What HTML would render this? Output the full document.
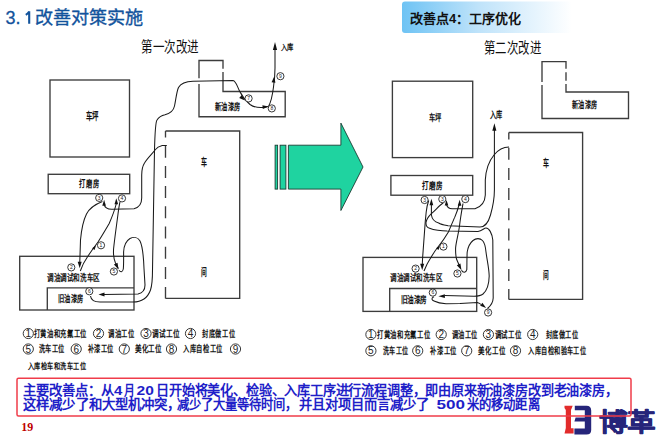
<!DOCTYPE html>
<html lang="zh-CN"><head><meta charset="utf-8">
<style>
html,body{margin:0;padding:0;background:#fff;}
body{width:660px;height:438px;overflow:hidden;position:relative;font-family:"Liberation Sans",sans-serif;}
svg{position:absolute;left:0;top:0;}
</style></head>
<body>
<svg width="660" height="438" viewBox="0 0 660 438" font-family="Liberation Serif, serif">
<defs>
<linearGradient id="hg" x1="0" x2="1" y1="0" y2="0">
<stop offset="0" stop-color="#6ec3f4"/>
<stop offset="0.45" stop-color="#bfe3fa"/>
<stop offset="1" stop-color="#ffffff"/>
</linearGradient>
</defs>

<g font-family="Liberation Sans, sans-serif" font-size="18" fill="#12539c">
<text x="5.6" y="23.8" stroke="#12539c" stroke-width="0.3">3.</text>
<path d="M29.2,23.8 V11.2 M29.2,11.4 C28.3,13 27.2,14 25.8,14.8" fill="none" stroke="#12539c" stroke-width="2.1"/>
<text x="34.5" y="23.8" stroke="#12539c" stroke-width="0.35" textLength="108.5" lengthAdjust="spacingAndGlyphs">改善对策实施</text>
</g>
<rect x="402" y="1.5" width="170" height="31.5" rx="3" fill="url(#hg)"/>
<text x="410" y="23" font-family="Liberation Sans, sans-serif" font-size="13" font-weight="bold" fill="#111">改善点4：工序优化</text>
<g fill="#222">
<text x="141" y="52.1" font-size="15.0" textLength="57.6" lengthAdjust="spacingAndGlyphs" fill="#111" font-weight="normal">第一次改进</text>
<text x="484" y="53.3" font-size="15.0" textLength="57" lengthAdjust="spacingAndGlyphs" fill="#111" font-weight="normal">第二次改进</text>
</g>
<g fill="none" stroke="#3c3c3c" stroke-width="1.35">
<rect x="50" y="80" width="79.5" height="77"/>
<path d="M199,78.3 V60.5 H223 V68.7 M223,72 V91.5 H285.2 V116.7 H199 V84"/>
<path d="M165.5,131 H239.7 V298.4 H165.5"/>
<path d="M165.5,131 V298.4" stroke-dasharray="12,8.2" stroke-dashoffset="5.5"/>
<rect x="48.2" y="174.3" width="81.5" height="19.4"/>
<rect x="19.7" y="256.3" width="114.3" height="53.7"/>
<path d="M47.3,310 V287.8 H134"/>
</g>
<g fill="none" stroke="#1a1a1a" stroke-width="1.05">
<path d="M90.5,296 C91,300 94,302 100,302 L133,302 C143,302 148,297 150.5,290 C152.5,284 152.5,278 152.5,270 L154.5,150 C155,130 155.5,122 157,120 C159,117 162,115.5 165,114.8 C170,113.5 173.5,111 174.5,106 C176,99 176.5,92 178.5,87.5 C181,83 186,81.5 193,81.3 L233,80.5 C236,81 237,86 239.5,91 C242,96 246,101 250,104.5 C254,107.5 258,107.8 263,107.5 L268.5,106.5 C271,102 272.5,95 273.5,87 C274.5,80 275,75 275,68 L275,47"/>
<path d="M166.8,145.4 L162.2,145.6 C159,146.5 157,147.5 155.5,149.5 C152,154 147,158.5 144.5,163 C142,167 141.7,170 141.7,175 L141.7,198 C141.7,204 139,207.5 134,208.7 L112,209.3 C107,209.3 104.5,207.5 104.2,204"/>
<path d="M102.4,201.5 C96,204 90,207 86.5,214 C83,221 81.5,229 80.5,240 L79.7,265"/>
<path d="M80.3,271 C82,266 84.5,261 88,256 C91,251.5 95,246 98,242 C102.5,235 106,229 109.2,223.5 C112,217 114.5,211 116.2,204"/>
<path d="M120,201.8 C119,206 118.5,210 118,214 C117,222 115.5,232 114,245 C113,252 113.3,258 115.5,263 L118.2,268.5"/>
<path d="M119,270.3 C120.5,272.5 122.5,272.5 123.3,269 C123.8,264 123.6,258 123.6,252 C123.8,246 126,241 130,238.5 C134,236.5 138,237.5 140,241 C142.5,246 143.5,255 144,268.5 L145,285 C145,290 142.5,293 138,294 L104,294.4"/>
</g>
<g>
<path d="M275.0,42.1 L277.1,50.1 L272.9,50.1 Z" fill="#111"/>
<path d="M274.2,76.5 L275.4,82.7 L271.6,82.2 Z" fill="#111"/>
<path d="M245.0,100.5 L239.2,98.0 L241.8,95.1 Z" fill="#111"/>
<path d="M268.6,106.5 L262.8,109.0 L262.4,105.2 Z" fill="#111"/>
<path d="M104.1,199.8 L105.9,205.8 L102.3,205.8 Z" fill="#111"/>
<path d="M116.3,198.2 L118.1,204.2 L114.5,204.2 Z" fill="#111"/>
<path d="M79.7,268.2 L77.7,261.7 L81.7,261.7 Z" fill="#111"/>
<path d="M96.0,245.5 L94.5,250.0 L92.1,248.2 Z" fill="#111"/>
<path d="M118.6,269.4 L113.9,264.5 L117.5,262.7 Z" fill="#111"/>
<path d="M98.5,294.5 L104.5,292.6 L104.5,296.4 Z" fill="#111"/>
</g>
<circle cx="99.2" cy="197.9" r="3.6" fill="#fff" stroke="#222" stroke-width="0.9"/>
<text x="99.2" y="199.7" font-size="5" text-anchor="middle" fill="#222" font-family="Liberation Sans, sans-serif">3</text>
<circle cx="122" cy="198.4" r="3.6" fill="#fff" stroke="#222" stroke-width="0.9"/>
<text x="122" y="200.2" font-size="5" text-anchor="middle" fill="#222" font-family="Liberation Sans, sans-serif">4</text>
<circle cx="71.3" cy="267.4" r="3.6" fill="#fff" stroke="#222" stroke-width="0.9"/>
<text x="71.3" y="269.2" font-size="5" text-anchor="middle" fill="#222" font-family="Liberation Sans, sans-serif">2</text>
<circle cx="101" cy="245.3" r="3.6" fill="#fff" stroke="#222" stroke-width="0.9"/>
<text x="101" y="247.1" font-size="5" text-anchor="middle" fill="#222" font-family="Liberation Sans, sans-serif">1</text>
<circle cx="113.9" cy="271.5" r="3.6" fill="#fff" stroke="#222" stroke-width="0.9"/>
<text x="113.9" y="273.3" font-size="5" text-anchor="middle" fill="#222" font-family="Liberation Sans, sans-serif">5</text>
<circle cx="89.3" cy="291.3" r="3.6" fill="#fff" stroke="#222" stroke-width="0.9"/>
<text x="89.3" y="293.1" font-size="5" text-anchor="middle" fill="#222" font-family="Liberation Sans, sans-serif">6</text>
<circle cx="248.6" cy="98.4" r="3.6" fill="#fff" stroke="#222" stroke-width="0.9"/>
<text x="248.6" y="100.2" font-size="5" text-anchor="middle" fill="#222" font-family="Liberation Sans, sans-serif">7</text>
<circle cx="271.8" cy="108.4" r="3.6" fill="#fff" stroke="#222" stroke-width="0.9"/>
<text x="271.8" y="110.2" font-size="5" text-anchor="middle" fill="#222" font-family="Liberation Sans, sans-serif">8</text>
<circle cx="280.4" cy="76.2" r="3.6" fill="#fff" stroke="#222" stroke-width="0.9"/>
<text x="280.4" y="78.0" font-size="5" text-anchor="middle" fill="#222" font-family="Liberation Sans, sans-serif">9</text>
<g fill="#111">
<text x="85.7" y="119.8" font-size="9.7" textLength="13.2" lengthAdjust="spacingAndGlyphs" fill="#111" font-weight="bold">车坪</text>
<text x="214.5" y="109.6" font-size="9.5" textLength="26.1" lengthAdjust="spacingAndGlyphs" fill="#111" font-weight="bold">新油漆房</text>
<text x="280.7" y="49.6" font-size="8.0" textLength="12.6" lengthAdjust="spacingAndGlyphs" fill="#111" font-weight="bold">入库</text>
<text x="200.9" y="165.8" font-size="10.0" textLength="6" lengthAdjust="spacingAndGlyphs" fill="#111" font-weight="bold">车</text>
<text x="201.4" y="275.9" font-size="10.1" textLength="5.7" lengthAdjust="spacingAndGlyphs" fill="#111" font-weight="bold">间</text>
<text x="79.4" y="187.2" font-size="9.6" textLength="19.7" lengthAdjust="spacingAndGlyphs" fill="#111" font-weight="bold">打磨房</text>
<text x="46.9" y="280.8" font-size="9.0" textLength="53" lengthAdjust="spacingAndGlyphs" fill="#111" font-weight="bold">调油调试和洗车区</text>
<text x="57.5" y="302.0" font-size="9.6" textLength="26" lengthAdjust="spacingAndGlyphs" fill="#111" font-weight="bold">旧油漆房</text>
</g>
<g fill="none" stroke="#3c3c3c" stroke-width="1.35">
<rect x="392.4" y="81.2" width="80.3" height="76.4"/>
<path d="M542,82 V61.6 H566 V68.8 M566,72.3 V80.8 M566,83.9 V92 H628.5 V118.5 H542 V85.1"/>
<path d="M508.8,132.5 H582.6 V299.4 H508.8"/>
<path d="M508.8,132.5 V299.4" stroke-dasharray="12,8.2" stroke-dashoffset="5"/>
<rect x="390.9" y="175.5" width="81.8" height="19.7"/>
<rect x="363" y="257.4" width="113.7" height="54"/>
<path d="M389.7,311.4 V288.5 H476.7"/>
</g>
<g fill="none" stroke="#1a1a1a" stroke-width="1.05">
<path d="M509,147 C503,147 498,150 494,155 C489,161 486,168 485.3,180 L485.3,195 C485,202 482,206.5 475,208.8 L452,208.8 C449.5,208.7 447.5,207.5 446.6,205"/>
<path d="M431.4,204 L431.4,215 C432,219 435,222 438.7,223 C441,224.5 444,225 448,225.8 L480,227 C485,227 488.5,222 490.5,215 C492.5,208 494.4,200 494.4,190 L494.4,130"/>
<path d="M443.3,202.8 C440,205 436.5,209 431.4,213.7 C428.5,216.5 426.5,219.5 426,222.4 C425.8,225 427,227.5 429.6,228.3 C432,229.5 435,230 437.8,230.2 C441,230.7 444,231 447,231.1 L478,231.4 C482,231 484,228 486,228 C489,228 492,233 492.8,240 L493.2,298 C493,303 490.5,306 487.5,308.5"/>
<path d="M428.7,200.5 C427.5,204 426.6,208 426.2,212 C425.5,218 425,224 424.5,232 C423.8,242 423,252 422.6,258 L422.2,266"/>
<path d="M424,271 C426,266 428,262 430,259 C433,254 435.5,250 438,247 C442,242 445.5,237 448.4,232 C451,226 453,221 454.7,217.4 C457,212 458.5,207 459.3,204"/>
<path d="M463,203.5 C462,209 460.5,217 459.5,226 C458.3,235 456,242 455.6,248 C455.5,252 455.8,256 456.5,259 L459.5,266"/>
<path d="M461.5,270.2 C463,273 466,273 466.8,269.7 C467,264 466.8,258 467.2,252 C468,247 470,243 473,240.5 C476,238 480,238 482.5,240.5 C485,243 485.5,247 486,252 C487,260 489,268 489.2,276 C489,285 486.5,291 483,294 C480.5,296 477,296.2 474,296.2 L444.5,295.6"/>
<path d="M434,296.8 C431,298 431.5,300 434,301 C437,302.5 441,303.5 446,303.8 L460,303.6 L477.3,302.5 C479,303 480,303.5 481,304.5"/>
</g>
<g>
<path d="M494.4,123.2 L496.4,130.7 L492.3,130.7 Z" fill="#111"/>
<path d="M446.5,200.0 L448.3,205.5 L444.7,205.5 Z" fill="#111"/>
<path d="M431.4,198.7 L433.3,205.2 L429.5,205.2 Z" fill="#111"/>
<path d="M459.6,199.8 L461.4,205.8 L457.8,205.8 Z" fill="#111"/>
<path d="M422.2,270.3 L420.2,263.8 L424.2,263.8 Z" fill="#111"/>
<path d="M440.0,245.5 L438.5,250.0 L436.1,248.2 Z" fill="#111"/>
<path d="M461.5,270.2 L456.8,265.3 L460.4,263.5 Z" fill="#111"/>
<path d="M438.4,296.2 L444.9,294.3 L444.9,298.1 Z" fill="#111"/>
<path d="M486.1,307.9 L480.2,305.8 L482.4,302.8 Z" fill="#111"/>
</g>
<circle cx="424.6" cy="200" r="3.6" fill="#fff" stroke="#222" stroke-width="0.9"/>
<text x="424.6" y="201.8" font-size="5" text-anchor="middle" fill="#222" font-family="Liberation Sans, sans-serif">3</text>
<circle cx="442.3" cy="199.1" r="3.6" fill="#fff" stroke="#222" stroke-width="0.9"/>
<text x="442.3" y="200.9" font-size="5" text-anchor="middle" fill="#222" font-family="Liberation Sans, sans-serif">3</text>
<circle cx="465.3" cy="199.1" r="3.6" fill="#fff" stroke="#222" stroke-width="0.9"/>
<text x="465.3" y="200.9" font-size="5" text-anchor="middle" fill="#222" font-family="Liberation Sans, sans-serif">4</text>
<circle cx="415.6" cy="268.6" r="3.6" fill="#fff" stroke="#222" stroke-width="0.9"/>
<text x="415.6" y="270.4" font-size="5" text-anchor="middle" fill="#222" font-family="Liberation Sans, sans-serif">2</text>
<circle cx="443.4" cy="246.6" r="3.6" fill="#fff" stroke="#222" stroke-width="0.9"/>
<text x="443.4" y="248.4" font-size="5" text-anchor="middle" fill="#222" font-family="Liberation Sans, sans-serif">1</text>
<circle cx="457.4" cy="273.5" r="3.6" fill="#fff" stroke="#222" stroke-width="0.9"/>
<text x="457.4" y="275.3" font-size="5" text-anchor="middle" fill="#222" font-family="Liberation Sans, sans-serif">5</text>
<circle cx="432.8" cy="292.6" r="3.6" fill="#fff" stroke="#222" stroke-width="0.9"/>
<text x="432.8" y="294.4" font-size="5" text-anchor="middle" fill="#222" font-family="Liberation Sans, sans-serif">6</text>
<circle cx="488.1" cy="312.5" r="3.6" fill="#fff" stroke="#222" stroke-width="0.9"/>
<text x="488.1" y="314.3" font-size="5" text-anchor="middle" fill="#222" font-family="Liberation Sans, sans-serif">9</text>
<g fill="#111">
<text x="428.9" y="120.9" font-size="8.8" textLength="12.9" lengthAdjust="spacingAndGlyphs" fill="#111" font-weight="bold">车坪</text>
<text x="572" y="107.8" font-size="9.6" textLength="25.6" lengthAdjust="spacingAndGlyphs" fill="#111" font-weight="bold">新油漆房</text>
<text x="489.6" y="118.1" font-size="9.6" textLength="12.9" lengthAdjust="spacingAndGlyphs" fill="#111" font-weight="bold">入库</text>
<text x="542.8" y="166.8" font-size="10.0" textLength="6" lengthAdjust="spacingAndGlyphs" fill="#111" font-weight="bold">车</text>
<text x="542.8" y="278.9" font-size="10.0" textLength="5.7" lengthAdjust="spacingAndGlyphs" fill="#111" font-weight="bold">间</text>
<text x="422.3" y="188.8" font-size="9.6" textLength="20.5" lengthAdjust="spacingAndGlyphs" fill="#111" font-weight="bold">打磨房</text>
<text x="390" y="281.2" font-size="9.0" textLength="52.3" lengthAdjust="spacingAndGlyphs" fill="#111" font-weight="bold">调油调试和洗车区</text>
<text x="401" y="303.2" font-size="9.4" textLength="25.5" lengthAdjust="spacingAndGlyphs" fill="#111" font-weight="bold">旧油漆房</text>
</g>
<g fill="#1fd3a0" stroke="#1a3d33" stroke-width="0.9">
<rect x="275.1" y="145.2" width="2.5" height="43.9"/>
<rect x="280.1" y="145.2" width="5.8" height="43.9"/>
<path d="M288.4,145.2 H340.9 V123.1 L363,167 L340.9,210.5 V189.1 H288.4 Z"/>
</g>
<g fill="#111">
<circle cx="28.3" cy="333.5" r="5.1" fill="none" stroke="#222" stroke-width="0.9"/>
<text x="28.3" y="337.1" font-size="10" text-anchor="middle" fill="#222" font-family="Liberation Sans, sans-serif">1</text>
<text x="33.8" y="336.9" font-size="8.6" textLength="53.3" lengthAdjust="spacingAndGlyphs" fill="#111" font-weight="bold">打黄油和充氟工位</text>
<circle cx="98.5" cy="333.5" r="5.1" fill="none" stroke="#222" stroke-width="0.9"/>
<text x="98.5" y="337.1" font-size="10" text-anchor="middle" fill="#222" font-family="Liberation Sans, sans-serif">2</text>
<text x="108.2" y="336.9" font-size="8.6" textLength="26.6" lengthAdjust="spacingAndGlyphs" fill="#111" font-weight="bold">调油工位</text>
<circle cx="146" cy="333.5" r="5.1" fill="none" stroke="#222" stroke-width="0.9"/>
<text x="146" y="337.1" font-size="10" text-anchor="middle" fill="#222" font-family="Liberation Sans, sans-serif">3</text>
<text x="151.5" y="336.9" font-size="8.6" textLength="28" lengthAdjust="spacingAndGlyphs" fill="#111" font-weight="bold">调试工位</text>
<circle cx="190.5" cy="333.5" r="5.1" fill="none" stroke="#222" stroke-width="0.9"/>
<text x="190.5" y="337.1" font-size="10" text-anchor="middle" fill="#222" font-family="Liberation Sans, sans-serif">4</text>
<text x="202.3" y="336.9" font-size="8.6" textLength="32.8" lengthAdjust="spacingAndGlyphs" fill="#111" font-weight="bold">封底做工位</text>
<circle cx="28.3" cy="349" r="5.1" fill="none" stroke="#222" stroke-width="0.9"/>
<text x="28.3" y="352.6" font-size="10" text-anchor="middle" fill="#222" font-family="Liberation Sans, sans-serif">5</text>
<text x="38.6" y="352.4" font-size="8.6" textLength="26.1" lengthAdjust="spacingAndGlyphs" fill="#111" font-weight="bold">洗车工位</text>
<circle cx="76.2" cy="349" r="5.1" fill="none" stroke="#222" stroke-width="0.9"/>
<text x="76.2" y="352.6" font-size="10" text-anchor="middle" fill="#222" font-family="Liberation Sans, sans-serif">6</text>
<text x="87.7" y="352.4" font-size="8.6" textLength="26.3" lengthAdjust="spacingAndGlyphs" fill="#111" font-weight="bold">补漆工位</text>
<circle cx="124.3" cy="349" r="5.1" fill="none" stroke="#222" stroke-width="0.9"/>
<text x="124.3" y="352.6" font-size="10" text-anchor="middle" fill="#222" font-family="Liberation Sans, sans-serif">7</text>
<text x="134.8" y="352.4" font-size="8.6" textLength="27.4" lengthAdjust="spacingAndGlyphs" fill="#111" font-weight="bold">美化工位</text>
<circle cx="171.5" cy="349" r="5.1" fill="none" stroke="#222" stroke-width="0.9"/>
<text x="171.5" y="352.6" font-size="10" text-anchor="middle" fill="#222" font-family="Liberation Sans, sans-serif">8</text>
<text x="183.3" y="352.4" font-size="8.6" textLength="39.5" lengthAdjust="spacingAndGlyphs" fill="#111" font-weight="bold">入库自检工位</text>
<circle cx="235.5" cy="349" r="5.1" fill="none" stroke="#222" stroke-width="0.9"/>
<text x="235.5" y="352.6" font-size="10" text-anchor="middle" fill="#222" font-family="Liberation Sans, sans-serif">9</text>
<text x="27.7" y="368.8" font-size="8.5" textLength="58.8" lengthAdjust="spacingAndGlyphs" fill="#111" font-weight="bold">入库检车和洗车工位</text>
<circle cx="370.9" cy="334.5" r="5.1" fill="none" stroke="#222" stroke-width="0.9"/>
<text x="370.9" y="338.1" font-size="10" text-anchor="middle" fill="#222" font-family="Liberation Sans, sans-serif">1</text>
<text x="377" y="337.9" font-size="8.6" textLength="53.3" lengthAdjust="spacingAndGlyphs" fill="#111" font-weight="bold">打黄油和充氟工位</text>
<circle cx="441.2" cy="334.5" r="5.1" fill="none" stroke="#222" stroke-width="0.9"/>
<text x="441.2" y="338.1" font-size="10" text-anchor="middle" fill="#222" font-family="Liberation Sans, sans-serif">2</text>
<text x="451.6" y="337.9" font-size="8.6" textLength="26" lengthAdjust="spacingAndGlyphs" fill="#111" font-weight="bold">调油工位</text>
<circle cx="488.4" cy="334.5" r="5.1" fill="none" stroke="#222" stroke-width="0.9"/>
<text x="488.4" y="338.1" font-size="10" text-anchor="middle" fill="#222" font-family="Liberation Sans, sans-serif">3</text>
<text x="494.5" y="337.9" font-size="8.6" textLength="27.3" lengthAdjust="spacingAndGlyphs" fill="#111" font-weight="bold">调试工位</text>
<circle cx="532.7" cy="334.5" r="5.1" fill="none" stroke="#222" stroke-width="0.9"/>
<text x="532.7" y="338.1" font-size="10" text-anchor="middle" fill="#222" font-family="Liberation Sans, sans-serif">4</text>
<text x="545.5" y="337.9" font-size="8.6" textLength="32.7" lengthAdjust="spacingAndGlyphs" fill="#111" font-weight="bold">封底做工位</text>
<circle cx="370.9" cy="350.8" r="5.1" fill="none" stroke="#222" stroke-width="0.9"/>
<text x="370.9" y="354.4" font-size="10" text-anchor="middle" fill="#222" font-family="Liberation Sans, sans-serif">5</text>
<text x="383" y="354.2" font-size="8.6" textLength="25.5" lengthAdjust="spacingAndGlyphs" fill="#111" font-weight="bold">洗车工位</text>
<circle cx="417.7" cy="350.8" r="5.1" fill="none" stroke="#222" stroke-width="0.9"/>
<text x="417.7" y="354.4" font-size="10" text-anchor="middle" fill="#222" font-family="Liberation Sans, sans-serif">6</text>
<text x="430.3" y="354.2" font-size="8.6" textLength="26.7" lengthAdjust="spacingAndGlyphs" fill="#111" font-weight="bold">补漆工位</text>
<circle cx="466.7" cy="350.8" r="5.1" fill="none" stroke="#222" stroke-width="0.9"/>
<text x="466.7" y="354.4" font-size="10" text-anchor="middle" fill="#222" font-family="Liberation Sans, sans-serif">7</text>
<text x="478.3" y="354.2" font-size="8.6" textLength="27.2" lengthAdjust="spacingAndGlyphs" fill="#111" font-weight="bold">美化工位</text>
<circle cx="515.5" cy="350.8" r="5.1" fill="none" stroke="#222" stroke-width="0.9"/>
<text x="515.5" y="354.4" font-size="10" text-anchor="middle" fill="#222" font-family="Liberation Sans, sans-serif">8</text>
<text x="528.2" y="354.2" font-size="8.6" textLength="58.2" lengthAdjust="spacingAndGlyphs" fill="#111" font-weight="bold">入库自检和验车工位</text>
</g>
<g font-family="Liberation Sans, sans-serif" font-weight="bold" font-size="13.3" fill="#1e1ec8">
<text x="23.2" y="394.5" textLength="91" lengthAdjust="spacingAndGlyphs">主要改善点：从</text>
<text x="114" y="394.5" textLength="8.3" lengthAdjust="spacingAndGlyphs">4</text>
<text x="124" y="394.5" textLength="10.5" lengthAdjust="spacingAndGlyphs">月</text>
<text x="136.5" y="394.5" textLength="17.3" lengthAdjust="spacingAndGlyphs">20</text>
<text x="156.2" y="394.5" textLength="461.5" lengthAdjust="spacingAndGlyphs">日开始将美化、检验、入库工序进行流程调整，即由原来新油漆房改到老油漆房，</text>
<text x="23.2" y="409" textLength="157" lengthAdjust="spacingAndGlyphs">这样减少了和大型机冲突，</text>
<text x="177" y="409" textLength="120" lengthAdjust="spacingAndGlyphs">减少了大量等待时间，</text>
<text x="299" y="409" textLength="130" lengthAdjust="spacingAndGlyphs">并且对项目而言减少了</text>
<text x="436.5" y="409" textLength="28.5" lengthAdjust="spacingAndGlyphs">500</text>
<text x="467" y="409" textLength="72.6" lengthAdjust="spacingAndGlyphs">米的移动距离</text>
</g>
<path d="M564.5,405.7 H572.7 L571,410 V428.3 H573.6 V433.6 H564.5 L565.8,428 V410 L564.5,408 Z" fill="#e22b2b"/>
<path d="M574.8,405.7 H586.5 Q591.2,405.7 591.2,410.5 V430 Q591.2,434.5 586.5,434.5 H574.4 V428.5 H584.8 V421.6 H574.4 L575.6,417.6 H584.8 V410.2 H574.8 Z" fill="#26257a"/>
<text x="598.8" y="430.6" font-family="Liberation Sans, sans-serif" font-weight="bold" font-size="24.5" fill="#26257a" stroke="#26257a" stroke-width="0.6" stroke-linejoin="round" textLength="56.3" lengthAdjust="spacingAndGlyphs">博革</text>
<rect x="17" y="378.3" width="614" height="37.7" rx="1.5" fill="none" stroke="#f03c4a" stroke-width="1.5"/>
<text x="21.2" y="431.4" font-family="Liberation Serif, serif" font-weight="bold" font-size="12" fill="#c00000">19</text>
</svg>
</body></html>
